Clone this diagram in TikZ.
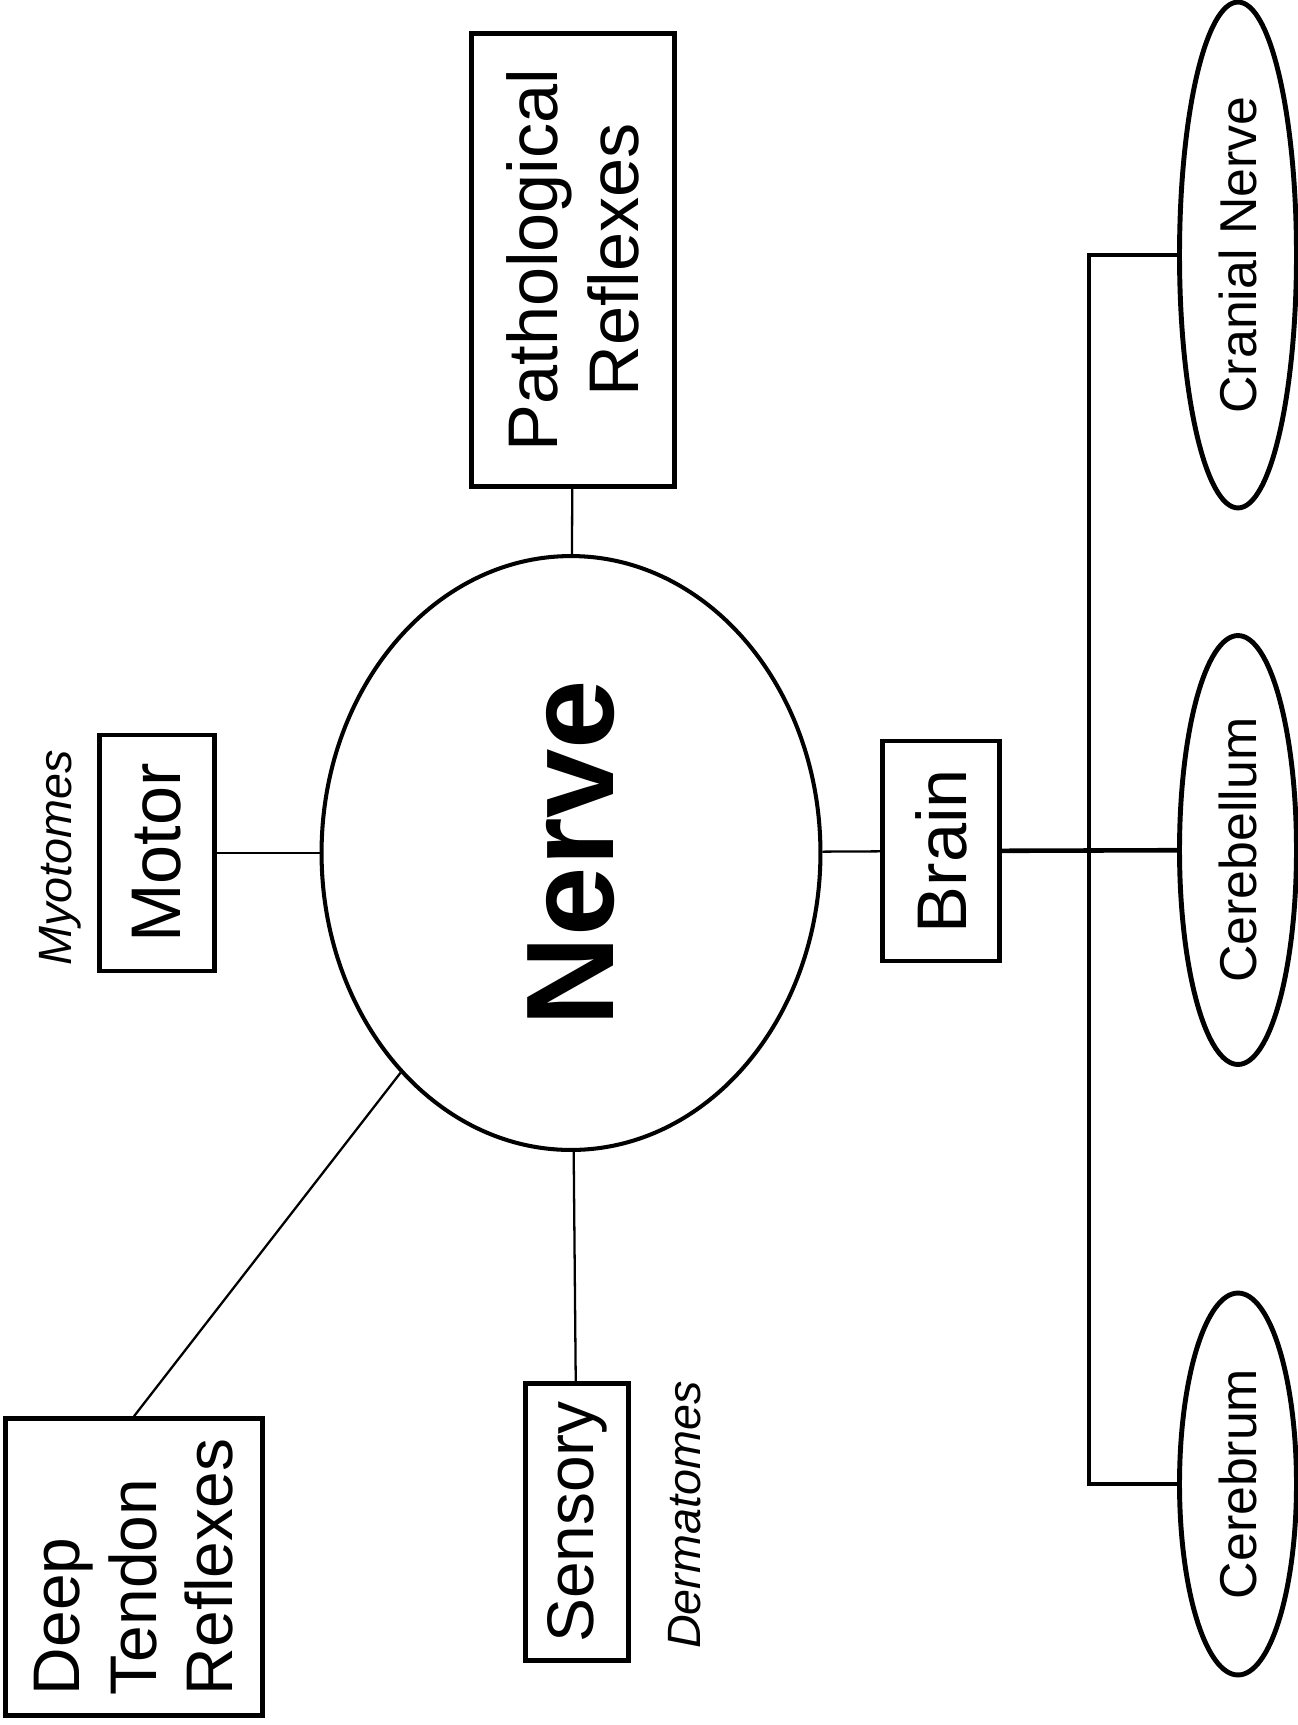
\documentclass[tikz,border=0pt]{standalone}
\usepackage{fontspec}
\setmainfont{Liberation Sans}
\usetikzlibrary{shapes.geometric}
\tikzset{%
  % Specifications for style of nodes:
        topic/.style = {rectangle, draw=black, line width=2.6pt, rotate=90,
                        inner sep=0pt, align=center,
                        font=\fontsize{40}{46}\selectfont},
   smalltopic/.style = {topic, align=left, font=\fontsize{37.5}{43.5}\selectfont},
          hub/.style = {ellipse, draw=black, line width=2.3pt, rotate=90,
                        inner sep=0pt, minimum width=11.88cm, minimum height=9.98cm,
                        font=\fontsize{71}{80}\selectfont\bfseries},
         part/.style = {ellipse, draw=black, line width=2.8pt, rotate=90,
                        inner sep=0pt, minimum height=2.34cm,
                        font=\fontsize{29.5}{35}\selectfont},
         note/.style = {rotate=90, inner sep=0pt,
                        font=\fontsize{26.6}{32}\selectfont\itshape},
         link/.style = {line width=1.3pt},
          bus/.style = {line width=2.6pt},
}

\begin{document}
\begin{tikzpicture}[x=0.02cm, y=-0.02cm]
  \useasboundingbox (0,0) rectangle (1298,1725);
  % Specification of nodes (position, etc.)
  \node (nerve)      [hub] at (571,853) {Nerve};
  \node (patho)      [topic, minimum width=9.06cm, minimum height=4.06cm] at (573,260) {Pathological\\Reflexes};
  \node (motor)      [topic, minimum width=4.72cm, minimum height=2.3cm] at (157,853) {Motor};
  \node (brain)      [topic, minimum width=4.4cm, minimum height=2.34cm] at (941,851) {Brain};
  \node (sensory)    [smalltopic, minimum width=5.54cm, minimum height=2.06cm] at (577,1522) {Sensory};
  \node (deep)       [smalltopic, minimum width=5.94cm, minimum height=5.14cm] at (134,1567) {Deep\\Tendon\\Reflexes};

  \node (myotomes)   [note] at (60,858) {Myotomes};
  \node (dermatomes) [note] at (685,1515) {Dermatomes};

  \node (cranial)    [part, minimum width=10.12cm] at (1238,255) {Cranial Nerve};
  \node (cerebellum) [part, minimum width=8.58cm] at (1238,850) {Cerebellum};
  \node (cerebrum)   [part, minimum width=7.64cm] at (1238,1484) {Cerebrum};
  \coordinate (fork) at (1089,851);

  % Specification of lines between nodes specified above
  \draw[link]    (patho) -- (nerve);
  \draw[link]    (motor) -- (nerve);
  \draw[link]    (nerve) -- (brain);
  \draw[link]    (nerve) -- (sensory);
  \draw[link] (deep.east) -- (nerve);
  \draw[bus]     (brain) -- (cerebellum);
  \draw[bus]   (cranial) -| (fork) |- (cerebrum);
\end{tikzpicture}
\end{document}
